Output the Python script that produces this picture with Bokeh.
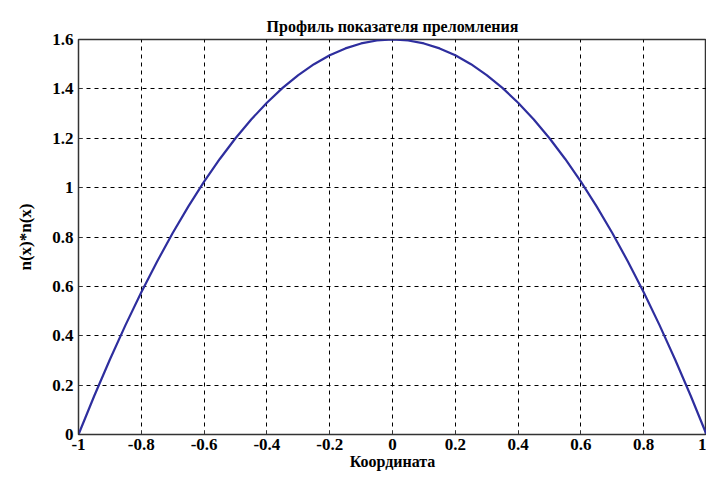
from bokeh.plotting import figure
from bokeh.models import FixedTicker
from bokeh.embed import file_html
from bokeh.resources import INLINE

x_vals = [-1.0, -0.95, -0.9, -0.85, -0.8, -0.75, -0.7, -0.65, -0.6, -0.55, -0.5,
          -0.45, -0.4, -0.35, -0.3, -0.25, -0.2, -0.15, -0.1, -0.05, 0.0,
          0.05, 0.1, 0.15, 0.2, 0.25, 0.3, 0.35, 0.4, 0.45, 0.5,
          0.55, 0.6, 0.65, 0.7, 0.75, 0.8, 0.85, 0.9, 0.95, 1.0]
n2_vals = [0.0, 0.156, 0.304, 0.444, 0.576, 0.70, 0.816, 0.924, 1.024, 1.116, 1.20,
           1.276, 1.344, 1.404, 1.456, 1.50, 1.536, 1.564, 1.584, 1.596, 1.60,
           1.596, 1.584, 1.564, 1.536, 1.50, 1.456, 1.404, 1.344, 1.276, 1.20,
           1.116, 1.024, 0.924, 0.816, 0.70, 0.576, 0.444, 0.304, 0.156, 0.0]

x_ticks = [-1, -0.8, -0.6, -0.4, -0.2, 0, 0.2, 0.4, 0.6, 0.8, 1]
x_tick_labels = ["-1", "-0.8", "-0.6", "-0.4", "-0.2", "0", "0.2", "0.4", "0.6", "0.8", "1"]
y_ticks = [0, 0.2, 0.4, 0.6, 0.8, 1.0, 1.2, 1.4, 1.6]
y_tick_labels = ["0", "0.2", "0.4", "0.6", "0.8", "1", "1.2", "1.4", "1.6"]

FONT = "Liberation Serif"

p = figure(width=706, height=472, x_range=(-1, 1), y_range=(0, 1.6),
           output_backend="svg", toolbar_location=None,
           title="Профиль показателя преломления",
           min_border_left=78, min_border_right=0, min_border_top=39, min_border_bottom=36)

p.title.align = "center"
p.title.text_font = FONT
p.title.text_font_style = "bold"
p.title.text_font_size = "16px"
p.title.text_color = "black"

p.line(x_vals, n2_vals, line_color="#2e2e9e", line_width=2.2)

p.xaxis.ticker = FixedTicker(ticks=x_ticks)
p.yaxis.ticker = FixedTicker(ticks=y_ticks)
p.xaxis.major_label_overrides = {t: l for t, l in zip(x_ticks, x_tick_labels)}
p.yaxis.major_label_overrides = {t: l for t, l in zip(y_ticks, y_tick_labels)}

for ax in (p.xaxis[0], p.yaxis[0]):
    ax.major_label_text_font = FONT
    ax.major_label_text_font_style = "bold"
    ax.major_label_text_font_size = "17px"
    ax.major_label_text_color = "black"
    ax.axis_label_text_font = FONT
    ax.axis_label_text_font_style = "bold"
    ax.axis_label_text_font_size = "17px"
    ax.axis_label_text_color = "black"
    ax.axis_line_color = "#333333"
    ax.major_tick_in = 4
    ax.major_tick_out = 0
    ax.minor_tick_line_color = None
    ax.major_tick_line_color = "#333333"

p.xaxis.major_label_standoff = 4
p.xaxis.axis_label_text_font_size = "16px"
p.xaxis.axis_label = "Координата"
p.yaxis.axis_label = "n(x)*n(x)"
p.xaxis.axis_label_standoff = 0
p.yaxis.axis_label_standoff = 14

p.xgrid.grid_line_color = "black"
p.ygrid.grid_line_color = "black"
p.xgrid.grid_line_dash = "4 4"
p.ygrid.grid_line_dash = "4 4"
p.xgrid.grid_line_width = 1
p.ygrid.grid_line_width = 1

p.outline_line_color = "#333333"
p.outline_line_width = 1.5

open("out.html", "w").write(file_html(p, INLINE))
